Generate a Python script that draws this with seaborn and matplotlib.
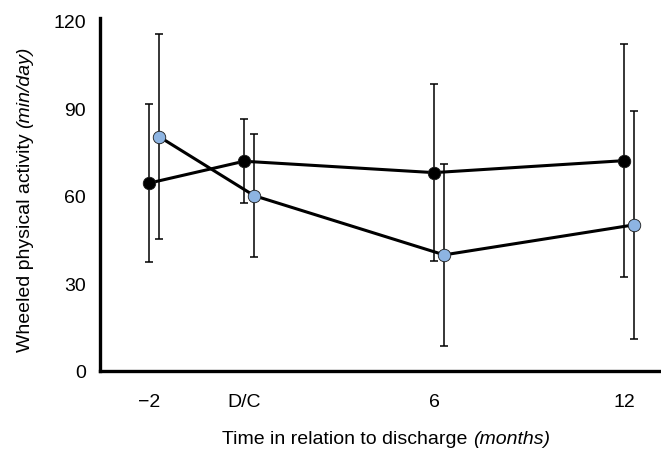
import matplotlib
matplotlib.use("Agg")
import matplotlib.pyplot as plt
import seaborn as sns
import pandas as pd
import numpy as np

# ---- data ----
time_labels = ["\u22122", "D/C", "6", "12"]
time_axis_pos = [-3, 0, 6, 12]          # axis placement of the four time points
group_a_mean = [64.4, 71.9, 68.0, 72.1]  # black series
group_a_err = [27.0, 14.4, 30.3, 40.0]
group_b_mean = [80.3, 60.1, 39.8, 50.1]  # light-blue series
group_b_err = [35.2, 21.0, 31.1, 39.0]
y_ticks = [0, 30, 60, 90, 120]
x_title = ("Time in relation to discharge ", "(months)")
y_title = ("Wheeled physical activity ", "(min/day)")

sns.set_theme(style="white")
plt.rcParams["font.family"] = ["Liberation Sans", "DejaVu Sans"]

FS = 14
W, H = 661, 456
dodge = 0.32
df_a = pd.DataFrame({"x": time_axis_pos, "y": group_a_mean, "err": group_a_err})
df_b = pd.DataFrame({"x": [p + dodge for p in time_axis_pos], "y": group_b_mean,
                     "err": group_b_err})

fig = plt.figure(figsize=(W / 100, H / 100), dpi=100)
ax = fig.add_axes([100 / W, 1 - 372 / H, 1 - 100 / W, (372 - 19) / H])

for sub, face in [(df_a, "black"), (df_b, "#8DB4E2")]:
    ax.errorbar(sub["x"], sub["y"], yerr=sub["err"], fmt="none", ecolor="black",
                elinewidth=1.1, capsize=3.2, capthick=1.1, zorder=2)
    sns.lineplot(data=sub, x="x", y="y", ax=ax, color="black",
                 marker="o", markersize=9, markerfacecolor=face,
                 markeredgecolor="#1a1a1a", markeredgewidth=0.6,
                 linewidth=2.2, legend=False, zorder=3, estimator=None, sort=False)

ax.set_xlim(-4.55, 13.17)
ax.set_ylim(0, 121)
ax.set_xticks(time_axis_pos)
ax.set_xticklabels(time_labels)
ax.set_yticks(y_ticks)
ax.tick_params(axis="both", length=0, labelsize=FS, colors="black")
ax.tick_params(axis="x", pad=16)
ax.tick_params(axis="y", pad=10)
ax.set_xlabel("")
ax.set_ylabel("")

for s in ["top", "right"]:
    ax.spines[s].set_visible(False)
for s in ["left", "bottom"]:
    ax.spines[s].set_color("black")
    ax.spines[s].set_linewidth(2.4)

# mixed upright / italic axis titles
renderer = fig.canvas.get_renderer()

def mixed_title(parts, cx, cy, rotation):
    t1 = fig.text(0, 0, parts[0], fontsize=FS, color="black", rotation=rotation,
                  ha="left", va="bottom", rotation_mode="anchor")
    t2 = fig.text(0, 0, parts[1], fontsize=FS, color="black", style="italic",
                  rotation=rotation, ha="left", va="bottom", rotation_mode="anchor")
    e1 = t1.get_window_extent(renderer)
    e2 = t2.get_window_extent(renderer)
    if rotation == 0:
        l1, l2, th = e1.width, e2.width, e1.height
        total = l1 + l2
        x0 = cx - total / 2
        yb = (H - cy) - th / 2
        t1.set_position((x0 / W, yb / H))
        t2.set_position(((x0 + l1) / W, yb / H))
    else:
        l1, l2, th = e1.height, e2.height, e1.width
        total = l1 + l2
        y0 = (H - cy) - total / 2
        xb = cx + th / 2
        t1.set_position((xb / W, y0 / H))
        t2.set_position((xb / W, (y0 + l1) / H))

mixed_title(x_title, 386, 440, 0)
mixed_title(y_title, 25, 199, 90)

fig.savefig("out.png", dpi=100)
